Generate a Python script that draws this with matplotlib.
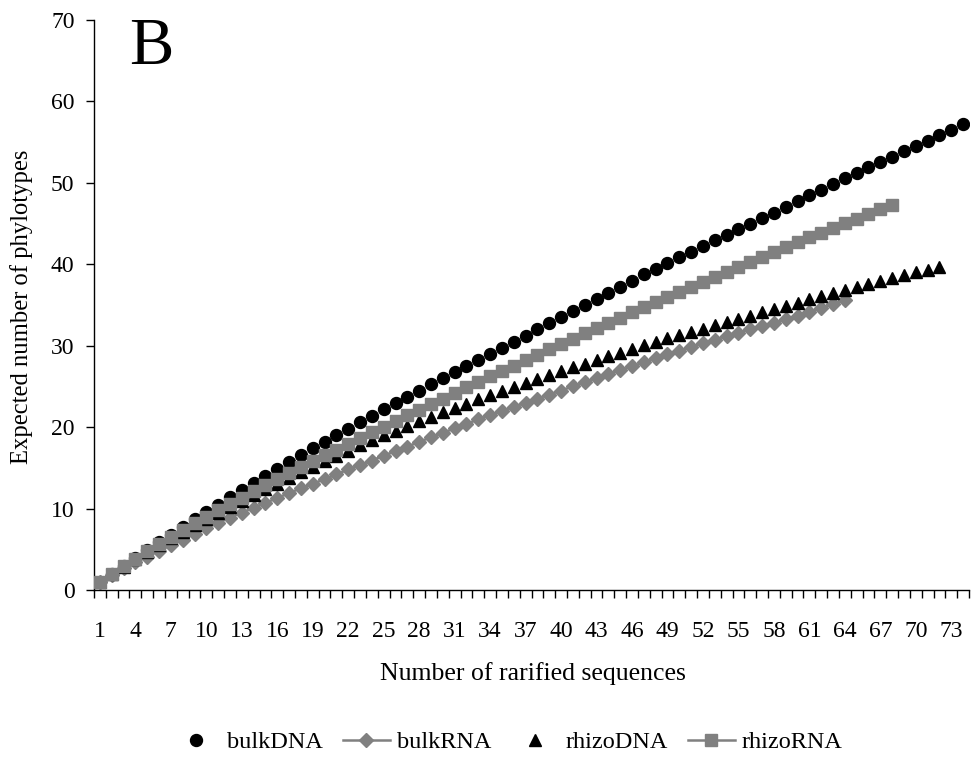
import numpy as np
import matplotlib
matplotlib.use('Agg')
import matplotlib.pyplot as plt

plt.rcParams['font.family'] = ['Liberation Serif', 'DejaVu Serif']

# Expected number of phylotypes
bulk_dna = [1.0, 1.98, 2.96, 3.93, 4.9, 5.86, 6.81, 7.75, 8.68, 9.6,
            10.5, 11.4, 12.28, 13.15, 14.02, 14.87, 15.72, 16.55, 17.38, 18.2,
            19.0, 19.8, 20.6, 21.4, 22.18, 22.95, 23.72, 24.5, 25.25, 26.0,
            26.75, 27.5, 28.25, 29.0, 29.75, 30.5, 31.25, 32.0, 32.75, 33.5,
            34.25, 35.0, 35.75, 36.5, 37.25, 38.0, 38.75, 39.45, 40.15, 40.85,
            41.55, 42.25, 42.95, 43.65, 44.35, 45.0, 45.7, 46.35, 47.05, 47.75,
            48.45, 49.15, 49.85, 50.55, 51.2, 51.9, 52.55, 53.2, 53.9, 54.55,
            55.2, 55.85, 56.5, 57.2]
bulk_rna = [1.0, 1.9, 2.7, 3.4, 4.1, 4.8, 5.5, 6.2, 6.9, 7.6,
            8.25, 8.9, 9.5, 10.1, 10.7, 11.3, 11.9, 12.5, 13.05, 13.6,
            14.2, 14.8, 15.35, 15.9, 16.5, 17.05, 17.6, 18.2, 18.75, 19.3,
            19.85, 20.4, 20.95, 21.5, 22.0, 22.5, 23.0, 23.5, 24.0, 24.5,
            25.0, 25.5, 26.0, 26.5, 27.0, 27.45, 27.95, 28.45, 28.95, 29.4,
            29.85, 30.3, 30.75, 31.2, 31.6, 32.0, 32.4, 32.8, 33.25, 33.7,
            34.15, 34.6, 35.1, 35.6]
rhizo_dna = [1.0, 1.93, 2.84, 3.75, 4.65, 5.5, 6.33, 7.15, 7.96, 8.75,
             9.5, 10.24, 10.96, 11.66, 12.35, 13.05, 13.74, 14.43, 15.12, 15.8,
             16.46, 17.11, 17.76, 18.4, 18.98, 19.55, 20.13, 20.7, 21.25, 21.8,
             22.35, 22.9, 23.4, 23.9, 24.4, 24.9, 25.4, 25.9, 26.4, 26.9,
             27.35, 27.8, 28.25, 28.7, 29.15, 29.6, 30.05, 30.5, 30.9, 31.3,
             31.7, 32.1, 32.5, 32.9, 33.3, 33.7, 34.1, 34.5, 34.9, 35.3,
             35.68, 36.05, 36.43, 36.8, 37.18, 37.55, 37.93, 38.3, 38.65, 39.0,
             39.35, 39.7]
rhizo_rna = [1.0, 1.97, 2.92, 3.85, 4.76, 5.65, 6.52, 7.37, 8.2, 9.01,
             9.8, 10.58, 11.35, 12.11, 12.86, 13.6, 14.34, 15.07, 15.8, 16.52,
             17.24, 17.95, 18.66, 19.36, 20.06, 20.76, 21.45, 22.14, 22.83, 23.51,
             24.19, 24.87, 25.55, 26.22, 26.89, 27.56, 28.22, 28.88, 29.54, 30.2,
             30.86, 31.51, 32.16, 32.81, 33.45, 34.09, 34.73, 35.36, 35.99, 36.62,
             37.24, 37.86, 38.48, 39.09, 39.7, 40.31, 40.91, 41.51, 42.11, 42.7,
             43.29, 43.88, 44.46, 45.04, 45.62, 46.2, 46.77, 47.34]

n_cats = 74
label_every = 3
y_ticks = [0, 10, 20, 30, 40, 50, 60, 70]

gray = '#808080'
W, H = 972, 760

fig = plt.figure(figsize=(W / 100, H / 100), dpi=100)
ax = fig.add_axes([94 / W, 170 / H, (969 - 94) / W, 570 / H])

ax.plot(np.arange(1, len(bulk_dna) + 1), bulk_dna, linestyle='none', marker='o',
        ms=8.6, color='black', label='bulkDNA', zorder=3)
ax.plot(np.arange(1, len(bulk_rna) + 1), bulk_rna, color=gray, lw=1.8, marker='D',
        ms=7.0, label='bulkRNA', zorder=4)
ax.plot(np.arange(1, len(rhizo_dna) + 1), rhizo_dna, linestyle='none', marker='^',
        ms=8.6, color='black', label='rhizoDNA', zorder=5)
ax.plot(np.arange(1, len(rhizo_rna) + 1), rhizo_rna, color=gray, lw=1.8, marker='s',
        ms=8.0, label='rhizoRNA', zorder=6)

ax.set_xlim(0.5, n_cats + 0.5)
ax.set_ylim(0, 70)
ax.spines['top'].set_visible(False)
ax.spines['right'].set_visible(False)
ax.spines['left'].set_linewidth(1.0)
ax.spines['bottom'].set_linewidth(1.0)

# category axis: ticks between categories, labels on every third category
ax.set_xticks(np.arange(0.5, n_cats + 1, 1))
ax.set_xticklabels([])
cats = np.arange(1, n_cats + 1, label_every)
ax.set_xticks(cats, minor=True)
ax.set_xticklabels([str(c) for c in cats], minor=True)
ax.tick_params(axis='x', which='major', length=6, width=1, direction='out')
ax.tick_params(axis='x', which='minor', length=0, pad=22, labelsize=17)

ax.set_yticks(y_ticks)
ax.tick_params(axis='y', length=6, width=1, direction='out', labelsize=17, pad=8)

fig.text(533 / W, 1 - 674 / H, 'Number of rarified sequences', fontsize=18.5,
         ha='center', va='center')
fig.text(22 / W, 1 - 307 / H, 'Expected number of phylotypes', fontsize=17.7,
         ha='center', va='center', rotation=90)

fig.text(129 / W, 1 - 17 / H, 'B', fontsize=48, va='top', ha='left')

fig.legend(loc='center', bbox_to_anchor=(508 / W, 1 - 742 / H), ncol=4,
           frameon=False, fontsize=17.5, handlelength=1.9, columnspacing=0.85,
           handletextpad=0.3)

fig.savefig('out.png', dpi=100)
